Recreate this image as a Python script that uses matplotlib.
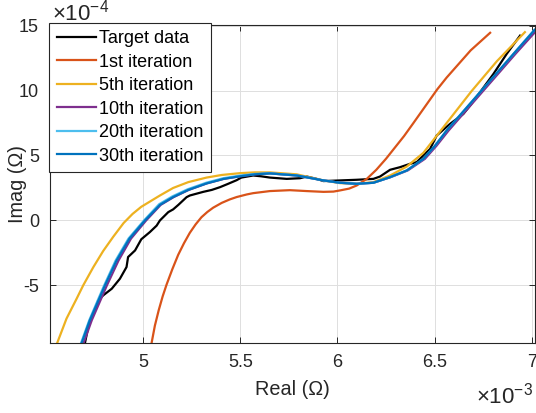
import matplotlib
matplotlib.use("Agg")
import matplotlib.pyplot as plt

plt.rcParams['font.family'] = ['Liberation Sans', 'DejaVu Sans']
plt.rcParams['mathtext.fontset'] = 'custom'
plt.rcParams['mathtext.rm'] = 'Liberation Sans'
plt.rcParams['axes.unicode_minus'] = False

# Real part in units of 1e-3 Ohm, imaginary part in units of 1e-4 Ohm
target_re = [4.700, 4.717, 4.735, 4.760, 4.768, 4.794, 4.838, 4.880, 4.914, 4.922,
             4.958, 4.990, 5.034, 5.069, 5.086, 5.129, 5.154, 5.181, 5.223, 5.240,
             5.309, 5.353, 5.395, 5.434, 5.481, 5.505, 5.566, 5.606, 5.652, 5.739,
             5.807, 5.842, 5.893, 5.928, 6.013, 6.099, 6.185, 6.219, 6.271, 6.322,
             6.374, 6.408, 6.442, 6.477, 6.511, 6.580, 6.648, 6.683, 6.734, 6.803,
             6.871, 6.940]
target_im = [-9.44, -8.2, -7.44, -6.67, -6.15, -5.77, -5.26, -4.49, -3.59, -2.82,
             -2.31, -1.45, -0.9, -0.4, 0.0, 0.64, 0.85, 1.2, 1.79, 1.92,
             2.2, 2.35, 2.56, 2.8, 3.1, 3.3, 3.46, 3.4, 3.3, 3.2,
             3.25, 3.38, 3.2, 3.03, 3.08, 3.13, 3.2, 3.38, 3.9, 4.1,
             4.36, 4.49, 5.0, 5.51, 6.54, 7.44, 8.2, 8.85, 9.87, 11.28,
             12.82, 14.23]

it1_re = [5.043, 5.060, 5.080, 5.100, 5.120, 5.150, 5.180, 5.210, 5.240, 5.270,
          5.300, 5.330, 5.360, 5.404, 5.446, 5.481, 5.533, 5.566, 5.652, 5.755,
          5.842, 5.928, 5.979, 6.013, 6.060, 6.099, 6.151, 6.200, 6.250, 6.343,
          6.391, 6.514, 6.562, 6.686, 6.786]
it1_im = [-9.44, -8.1, -6.9, -5.85, -4.95, -3.75, -2.65, -1.75, -0.95, -0.3,
          0.25, 0.65, 0.98, 1.35, 1.62, 1.8, 2.0, 2.1, 2.26, 2.33,
          2.26, 2.2, 2.22, 2.31, 2.45, 2.69, 3.2, 3.9, 4.75, 6.5,
          7.5, 10.1, 11.0, 13.1, 14.45]

it5_re = [4.557, 4.605, 4.657, 4.691, 4.743, 4.794, 4.846, 4.899, 4.945, 4.990,
          5.086, 5.154, 5.232, 5.326, 5.404, 5.498, 5.575, 5.652, 5.790, 5.928,
          6.013, 6.099, 6.185, 6.271, 6.357, 6.442, 6.562, 6.690, 6.820, 6.965]
it5_im = [-9.44, -7.56, -6.03, -5.0, -3.6, -2.35, -1.25, -0.2, 0.5, 1.05,
          1.92, 2.5, 2.95, 3.3, 3.5, 3.64, 3.7, 3.7, 3.55, 3.08,
          2.87, 2.82, 2.95, 3.46, 4.15, 5.2, 7.5, 9.95, 12.25, 14.5]

it10_re = [4.693, 4.735, 4.787, 4.813, 4.873, 4.937, 5.015, 5.090, 5.157, 5.234,
           5.327, 5.414, 5.498, 5.575, 5.652, 5.790, 5.928, 6.013, 6.099, 6.185,
           6.273, 6.362, 6.450, 6.510, 6.572, 6.744, 6.916, 7.017]
it10_im = [-9.44, -7.69, -5.9, -5.0, -3.08, -1.4, 0.0, 1.2, 1.8, 2.35,
           2.85, 3.2, 3.4, 3.55, 3.62, 3.46, 3.08, 2.9, 2.82, 2.9,
           3.33, 3.85, 4.74, 5.75, 6.92, 9.87, 12.82, 14.5]

it20_re = [4.680, 4.722, 4.773, 4.799, 4.858, 4.924, 5.004, 5.082, 5.150, 5.229,
           5.324, 5.412, 5.497, 5.575, 5.652, 5.790, 5.928, 6.013, 6.099, 6.185,
           6.271, 6.357, 6.442, 6.502, 6.562, 6.734, 6.906, 7.012]
it20_im = [-9.44, -7.69, -5.9, -5.0, -3.08, -1.4, 0.0, 1.25, 1.85, 2.4,
           2.9, 3.25, 3.45, 3.58, 3.63, 3.47, 3.08, 2.9, 2.82, 2.9,
           3.33, 3.85, 4.74, 5.75, 6.92, 9.87, 12.82, 14.65]

it30_re = [4.683, 4.725, 4.777, 4.803, 4.863, 4.929, 5.009, 5.086, 5.154, 5.232,
           5.326, 5.414, 5.498, 5.575, 5.652, 5.790, 5.928, 6.013, 6.099, 6.185,
           6.271, 6.357, 6.442, 6.502, 6.562, 6.734, 6.906, 7.017]
it30_im = [-9.44, -7.69, -5.9, -5.0, -3.08, -1.4, 0.0, 1.2, 1.8, 2.35,
           2.85, 3.2, 3.4, 3.55, 3.62, 3.46, 3.08, 2.9, 2.82, 2.9,
           3.33, 3.85, 4.74, 5.75, 6.92, 9.87, 12.82, 14.7]

xtick_vals = [5, 5.5, 6, 6.5, 7]
xtick_labels = ['5', '5.5', '6', '6.5', '7']
ytick_vals = [-5, 0, 5, 10, 15]
ytick_labels = ['-5', '0', '5', '10', '15']

fig = plt.figure(figsize=(5.36, 4.13), dpi=100)
ax = fig.add_axes([50 / 536, 1 - 343 / 413, 485 / 536, 318 / 413])

lw = 1.6
ax.plot(target_re, target_im, color='black', lw=lw, label='Target data')
ax.plot(it1_re, it1_im, color='#D95319', lw=lw, label='1st iteration')
ax.plot(it5_re, it5_im, color='#EDB120', lw=lw, label='5th iteration')
ax.plot(it10_re, it10_im, color='#7E2F8E', lw=lw, label='10th iteration')
ax.plot(it20_re, it20_im, color='#4DBEEE', lw=lw, label='20th iteration')
ax.plot(it30_re, it30_im, color='#0072BD', lw=lw, label='30th iteration')

ax.set_xlim(4.52, 7.017)
ax.set_ylim(-9.44, 15.05)
ax.set_xticks(xtick_vals)
ax.set_xticklabels(xtick_labels)
ax.set_yticks(ytick_vals)
ax.set_yticklabels(ytick_labels)

ax.grid(True, color='#dedede', lw=0.7)
ax.set_axisbelow(True)
ax.tick_params(direction='in', length=4, width=0.7, top=True, right=True,
               labelsize=13, pad=8, colors='#262626')
for s in ax.spines.values():
    s.set_color('#262626')
    s.set_linewidth(0.8)

ax.set_xlabel('Real (Ω)', fontsize=14.3, color='#262626', va='center')
ax.xaxis.set_label_coords(0.5, -0.145)
ax.set_ylabel('Imag (Ω)', fontsize=14.3, color='#262626', va='center')
ax.yaxis.set_label_coords(-0.068, 0.5)

ax.text(0.004, 1.0157, r'$\times10^{-4}$', transform=ax.transAxes,
        ha='left', va='baseline', fontsize=16, color='#262626')
ax.text(0.996, -0.189, r'$\times10^{-3}$', transform=ax.transAxes,
        ha='right', va='baseline', fontsize=16, color='#262626')

leg = ax.legend(loc='upper left', bbox_to_anchor=(49 / 536, 1 - 22.7 / 413),
                bbox_transform=fig.transFigure, borderaxespad=0, fontsize=13,
                frameon=True, fancybox=False, framealpha=1, edgecolor='#262626',
                handlelength=2.2, handletextpad=0.15, borderpad=0.42,
                labelspacing=0.36)
leg.get_frame().set_linewidth(0.8)

fig.savefig('out.png', dpi=100)
